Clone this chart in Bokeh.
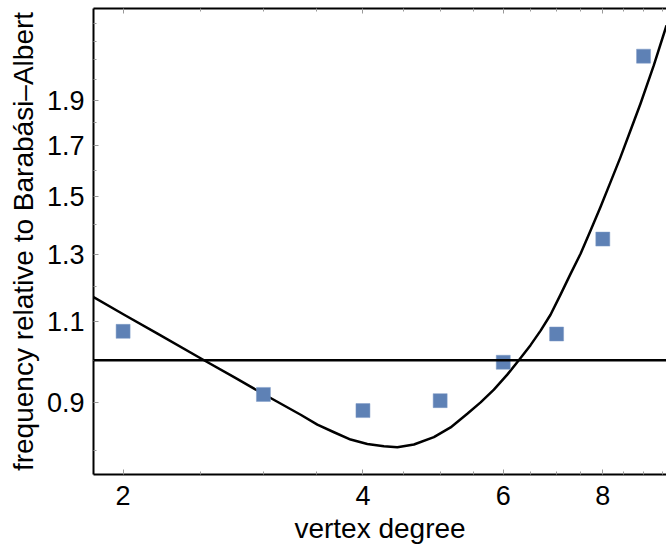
from bokeh.plotting import figure
from bokeh.models import (FixedTicker, PrintfTickFormatter, LogAxis, Span,
                          CustomJSTickFormatter)
from bokeh.embed import file_html
from bokeh.resources import INLINE

# observed data (vertex degree vs. frequency relative to Barabási–Albert)
degree = [2, 3, 4, 5, 6, 7, 8, 9]
freq_ratio = [1.074, 0.919, 0.883, 0.905, 0.995, 1.067, 1.349, 2.12]

# fitted curve
fit_x = [1.836, 2.006, 2.209, 2.527, 2.756, 3.0, 3.341, 3.506, 3.679, 3.860,
         4.051, 4.250, 4.418, 4.635, 4.910, 5.153, 5.408, 5.620, 5.840, 6.070,
         6.276, 6.492, 6.684, 6.878, 7.080, 7.288, 7.502, 7.722, 7.947, 8.180,
         8.420, 8.666, 8.920, 9.270, 9.617]
fit_y = [1.169, 1.119, 1.068, 1.0, 0.959, 0.920, 0.874, 0.853, 0.837, 0.822,
         0.813, 0.8085, 0.8065, 0.812, 0.827, 0.847, 0.876, 0.901, 0.930, 0.965,
         1.0, 1.038, 1.076, 1.119, 1.176, 1.238, 1.301, 1.378, 1.460, 1.553,
         1.652, 1.764, 1.885, 2.072, 2.287]

reference_level = 1.0

x_major = [2, 4, 6, 8]
x_minor = [2.5, 3, 3.5, 4.5, 5, 5.5, 6.5, 7, 7.5, 8.5, 9, 9.5]
y_major = [0.9, 1.1, 1.3, 1.5, 1.7, 1.9]
y_minor = [0.8, 1.0, 1.2, 1.4, 1.6, 1.8, 2.0, 2.1, 2.2, 2.3]

FONT = "Liberation Sans"
TICK_COLOR = "#999999"

p = figure(width=666, height=550, x_axis_type="log", y_axis_type="log",
           x_range=(1.836, 9.617), y_range=(0.754, 2.385),
           output_backend="svg", toolbar_location=None,
           min_border_left=93, min_border_top=8, min_border_right=0,
           min_border_bottom=76)
p.outline_line_color = None
p.xgrid.visible = False
p.ygrid.visible = False
p.background_fill_color = "white"
p.border_fill_color = "white"

def style_axis(ax, major, minor, labels=True):
    ax.ticker = FixedTicker(ticks=major, minor_ticks=minor)
    ax.axis_line_color = "black"
    ax.axis_line_width = 2
    ax.major_tick_in = 5
    ax.major_tick_out = 0
    ax.minor_tick_in = 3
    ax.minor_tick_out = 0
    ax.major_tick_line_color = TICK_COLOR
    ax.minor_tick_line_color = TICK_COLOR
    ax.major_label_text_font = FONT
    ax.axis_label_text_font = FONT
    ax.axis_label_text_font_style = "normal"
    ax.major_label_text_color = "black"
    ax.axis_label_text_color = "black"
    ax.major_label_text_font_size = "27px"
    ax.axis_label_text_font_size = "28px"
    if not labels:
        ax.formatter = CustomJSTickFormatter(code="return ''")
        ax.major_label_standoff = 0

style_axis(p.xaxis[0], x_major, x_minor)
p.xaxis[0].formatter = PrintfTickFormatter(format="%d")
style_axis(p.yaxis[0], y_major, y_minor)
p.yaxis[0].formatter = PrintfTickFormatter(format="%.1f")
p.xaxis.axis_label = "vertex degree"
p.yaxis.axis_label = "frequency relative to Barabási–Albert"
p.xaxis.major_label_standoff = 11
p.xaxis.axis_label_standoff = 5
p.yaxis.major_label_standoff = 9
p.yaxis.axis_label_standoff = 5

top = LogAxis()
style_axis(top, x_major, x_minor, labels=False)
p.add_layout(top, "above")

p.add_layout(Span(location=reference_level, dimension="width",
                  line_color="black", line_width=2.5))

p.line(fit_x, fit_y, line_color="black", line_width=2.5, line_join="round")
p.scatter(degree, freq_ratio, marker="square", size=14,
          fill_color="#5E81B5", line_color="#7F9BC6", line_width=0.5)

open("out.html", "w").write(file_html(p, INLINE))
